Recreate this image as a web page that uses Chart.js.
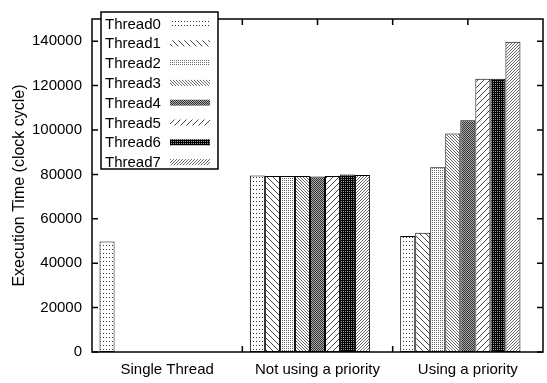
<!DOCTYPE html>
<html>
<head>
<meta charset="utf-8">
<script src="https://cdn.jsdelivr.net/npm/chart.js@4/dist/chart.umd.min.js"></script>
<style>
  html, body { margin: 0; padding: 0; background: #fff; }
</style>
</head>
<body>
<canvas id="c" width="547" height="383"></canvas>
<script>
// data
const categories = ["Single Thread", "Not using a priority", "Using a priority"];
const threadNames = ["Thread0", "Thread1", "Thread2", "Thread3", "Thread4", "Thread5", "Thread6", "Thread7"];
const thread0 = [49800, 79500, 52200];
const thread1 = [0, 79300, 53700];
const thread2 = [0, 79300, 83200];
const thread3 = [0, 79300, 98400];
const thread4 = [0, 79000, 104400];
const thread5 = [0, 79300, 123100];
const thread6 = [0, 79900, 123100];
const thread7 = [0, 79700, 139700];
const yTickValues = [0, 20000, 40000, 60000, 80000, 100000, 120000, 140000];

const canvas = document.getElementById("c");
const ctx = canvas.getContext("2d");
const FONT = "'Liberation Sans', Arial, Helvetica, sans-serif";

function tile(w, h, draw) {
    const c = document.createElement("canvas");
    c.width = w;
    c.height = h;
    const g = c.getContext("2d");
    g.fillStyle = "#fff";
    g.fillRect(0, 0, w, h);
    draw(g);
    return ctx.createPattern(c, "repeat");
}
function px(g, x, y, col) {
    g.fillStyle = col;
    g.fillRect(x, y, 1, 1);
}
function back(s, col) {      // "\" lines
    return tile(s, s, g => { for (let i = 0; i < s; i++) px(g, i, i, col); });
}
function fwd(s, col) {       // "/" lines
    return tile(s, s, g => { for (let i = 0; i < s; i++) px(g, s - 1 - i, i, col); });
}

const patterns = [
    tile(3, 4, g => px(g, 1, 1, "#333")),
    back(6, "#444"),
    tile(2, 2, g => px(g, 0, 0, "#666")),
    back(3, "#666"),
    tile(2, 2, g => { px(g, 0, 0, "#333"); px(g, 1, 1, "#333"); px(g, 1, 0, "#aaa"); px(g, 0, 1, "#aaa"); }),
    fwd(6, "#444"),
    tile(2, 2, g => { g.fillStyle = "#000"; g.fillRect(0, 0, 2, 2); px(g, 1, 1, "#999"); }),
    fwd(3, "#666")
];

const series = [thread0, thread1, thread2, thread3, thread4, thread5, thread6, thread7];

const datasets = series.map((vals, i) => ({
    label: threadNames[i],
    data: vals.map((v, k) => ({ x: k, y: v })),
    xAxisID: "xb",
    backgroundColor: patterns[i],
    borderColor: "#000",
    borderWidth: 1,
    borderSkipped: false,
    categoryPercentage: 0.8,
    barPercentage: 1
}));

const framePlugin = {
    id: "frame",
    afterDraw(chart) {
        const g = chart.ctx;
        const a = chart.chartArea;
        const ys = chart.scales.y;
        const xs = chart.scales.x;
        g.save();
        g.strokeStyle = "#000";
        g.lineWidth = 1.5;
        g.beginPath();
        ys.ticks.forEach(t => {
            const y = ys.getPixelForValue(t.value);
            g.moveTo(a.left, y); g.lineTo(a.left + 6, y);
            g.moveTo(a.right, y); g.lineTo(a.right - 6, y);
        });
        for (let i = 0; i < categories.length; i++) {
            const c = xs.getPixelForValue(i);
            g.moveTo(c, a.top); g.lineTo(c, a.top + 6);
            if (i > 0) {
                const b = (xs.getPixelForValue(i - 1) + c) / 2;
                g.moveTo(b, a.bottom); g.lineTo(b, a.bottom - 6);
                g.moveTo(b, a.top); g.lineTo(b, a.top + 6);
            }
        }
        g.stroke();
        g.strokeRect(a.left, a.top, a.right - a.left, a.bottom - a.top);

        // legend box inside the plot
        const lx = 101, ly = 12, lw = 117, lh = 157;
        g.fillStyle = "#fff";
        g.fillRect(lx, ly, lw, lh);
        g.strokeRect(lx, ly, lw, lh);
        g.font = "15px " + FONT;
        g.textBaseline = "middle";
        g.textAlign = "left";
        chart.data.datasets.forEach((ds, i) => {
            const cy = 24 + i * 19.8;
            g.fillStyle = "#000";
            g.fillText(ds.label, 105, cy + 0.5);
            g.fillStyle = ds.backgroundColor;
            g.fillRect(170, cy - 3.5, 40, 6);
        });
        g.restore();
    }
};

new Chart(ctx, {
    type: "bar",
    data: { labels: categories, datasets: datasets },
    options: {
        responsive: false,
        animation: false,
        devicePixelRatio: 1,
        layout: { padding: { top: 5, right: 4, left: 0, bottom: 0 } },
        plugins: {
            legend: { display: false },
            tooltip: { enabled: false }
        },
        scales: {
            xb: {
                type: "linear",
                display: false,
                offset: false,
                min: -0.45,
                max: 2.55,
                afterBuildTicks(s) {
                    s.ticks = categories.map((c, k) => ({ value: k }));
                }
            },
            x: {
                type: "category",
                offset: true,
                grid: { display: false, drawTicks: false },
                border: { display: false },
                ticks: {
                    color: "#000",
                    padding: 9,
                    maxRotation: 0,
                    font: { family: FONT, size: 15 }
                },
                afterFit(s) { s.height = 31; }
            },
            y: {
                min: 0,
                max: 150000,
                grid: { display: false, drawTicks: false },
                border: { display: false },
                afterBuildTicks(s) {
                    s.ticks = yTickValues.map(v => ({ value: v }));
                },
                ticks: {
                    color: "#000",
                    padding: 10,
                    font: { family: FONT, size: 15 },
                    callback: v => String(v)
                },
                title: {
                    display: true,
                    text: "Execution Time (clock cycle)",
                    color: "#000",
                    font: { family: FONT, size: 16 },
                    padding: { top: 10, bottom: 0 }
                },
                afterFit(s) { s.width = 92; }
            }
        }
    },
    plugins: [framePlugin]
});
</script>
</body>
</html>
